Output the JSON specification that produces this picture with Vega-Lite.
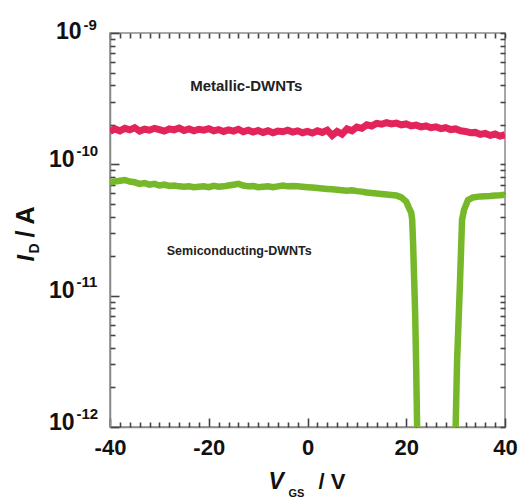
{
  "$schema": "https://vega.github.io/schema/vega-lite/v6.json",
  "width": 395,
  "height": 394,
  "autosize": {"type": "none"},
  "padding": {"left": 110, "top": 33, "right": 13, "bottom": 71},
  "background": "white",
  "config": {
    "font": "Liberation Sans",
    "view": {"stroke": "#8a8a8a", "strokeWidth": 1.5},
    "axis": {"grid": false, "labelColor": "#111", "titleColor": "#111", "tickColor": "#444", "tickWidth": 1.6, "domainColor": "#8a8a8a", "domainWidth": 1.5}
  },
  "datasets": {
    "metallic": [
      {"V": -40, "I": 1.78e-10}, {"V": -39, "I": 1.86e-10}, {"V": -38, "I": 1.80e-10}, {"V": -37, "I": 1.88e-10},
      {"V": -36, "I": 1.83e-10}, {"V": -35, "I": 1.90e-10}, {"V": -34, "I": 1.79e-10}, {"V": -33, "I": 1.85e-10},
      {"V": -32, "I": 1.82e-10}, {"V": -31, "I": 1.88e-10}, {"V": -30, "I": 1.84e-10}, {"V": -29, "I": 1.79e-10},
      {"V": -28, "I": 1.86e-10}, {"V": -27, "I": 1.83e-10}, {"V": -26, "I": 1.89e-10}, {"V": -25, "I": 1.81e-10},
      {"V": -24, "I": 1.86e-10}, {"V": -23, "I": 1.80e-10}, {"V": -22, "I": 1.85e-10}, {"V": -21, "I": 1.82e-10},
      {"V": -20, "I": 1.87e-10}, {"V": -19, "I": 1.80e-10}, {"V": -18, "I": 1.84e-10}, {"V": -17, "I": 1.78e-10},
      {"V": -16, "I": 1.83e-10}, {"V": -15, "I": 1.79e-10}, {"V": -14, "I": 1.85e-10}, {"V": -13, "I": 1.77e-10},
      {"V": -12, "I": 1.82e-10}, {"V": -11, "I": 1.76e-10}, {"V": -10, "I": 1.81e-10}, {"V": -9, "I": 1.75e-10},
      {"V": -8, "I": 1.80e-10}, {"V": -7, "I": 1.74e-10}, {"V": -6, "I": 1.79e-10}, {"V": -5, "I": 1.77e-10},
      {"V": -4, "I": 1.82e-10}, {"V": -3, "I": 1.76e-10}, {"V": -2, "I": 1.80e-10}, {"V": -1, "I": 1.74e-10},
      {"V": 0, "I": 1.78e-10}, {"V": 1, "I": 1.73e-10}, {"V": 2, "I": 1.80e-10}, {"V": 3, "I": 1.75e-10},
      {"V": 4, "I": 1.82e-10}, {"V": 5, "I": 1.66e-10}, {"V": 6, "I": 1.78e-10}, {"V": 7, "I": 1.70e-10},
      {"V": 8, "I": 1.86e-10}, {"V": 9, "I": 1.80e-10}, {"V": 10, "I": 1.92e-10}, {"V": 11, "I": 1.88e-10},
      {"V": 12, "I": 2.00e-10}, {"V": 13, "I": 1.96e-10}, {"V": 14, "I": 2.05e-10}, {"V": 15, "I": 2.02e-10},
      {"V": 16, "I": 2.08e-10}, {"V": 17, "I": 2.03e-10}, {"V": 18, "I": 2.06e-10}, {"V": 19, "I": 2.00e-10},
      {"V": 20, "I": 2.03e-10}, {"V": 21, "I": 1.96e-10}, {"V": 22, "I": 1.99e-10}, {"V": 23, "I": 1.93e-10},
      {"V": 24, "I": 1.96e-10}, {"V": 25, "I": 1.90e-10}, {"V": 26, "I": 1.93e-10}, {"V": 27, "I": 1.87e-10},
      {"V": 28, "I": 1.90e-10}, {"V": 29, "I": 1.84e-10}, {"V": 30, "I": 1.86e-10}, {"V": 31, "I": 1.80e-10},
      {"V": 32, "I": 1.78e-10}, {"V": 33, "I": 1.74e-10}, {"V": 34, "I": 1.75e-10}, {"V": 35, "I": 1.69e-10},
      {"V": 36, "I": 1.72e-10}, {"V": 37, "I": 1.66e-10}, {"V": 38, "I": 1.70e-10}, {"V": 39, "I": 1.64e-10},
      {"V": 40, "I": 1.68e-10}
    ],
    "semiconducting": [
      {"V": -40, "I": 7.3e-11}, {"V": -39, "I": 7.4e-11}, {"V": -38, "I": 7.5e-11}, {"V": -37, "I": 7.6e-11},
      {"V": -36, "I": 7.4e-11}, {"V": -35, "I": 7.3e-11}, {"V": -34, "I": 7.1e-11}, {"V": -33, "I": 7.2e-11},
      {"V": -32, "I": 7.0e-11}, {"V": -31, "I": 7.1e-11}, {"V": -30, "I": 6.9e-11}, {"V": -29, "I": 7.0e-11},
      {"V": -28, "I": 6.85e-11}, {"V": -27, "I": 6.9e-11}, {"V": -26, "I": 6.8e-11}, {"V": -25, "I": 6.75e-11},
      {"V": -24, "I": 6.8e-11}, {"V": -23, "I": 6.7e-11}, {"V": -22, "I": 6.75e-11}, {"V": -21, "I": 6.8e-11},
      {"V": -20, "I": 6.7e-11}, {"V": -19, "I": 6.85e-11}, {"V": -18, "I": 6.75e-11}, {"V": -17, "I": 6.8e-11},
      {"V": -16, "I": 6.9e-11}, {"V": -15, "I": 7.0e-11}, {"V": -14, "I": 7.1e-11}, {"V": -13, "I": 6.9e-11},
      {"V": -12, "I": 6.8e-11}, {"V": -11, "I": 6.85e-11}, {"V": -10, "I": 6.7e-11}, {"V": -9, "I": 6.75e-11},
      {"V": -8, "I": 6.8e-11}, {"V": -7, "I": 6.7e-11}, {"V": -6, "I": 6.8e-11}, {"V": -5, "I": 6.9e-11},
      {"V": -4, "I": 6.8e-11}, {"V": -3, "I": 6.85e-11}, {"V": -2, "I": 6.8e-11}, {"V": -1, "I": 6.75e-11},
      {"V": 0, "I": 6.7e-11}, {"V": 1, "I": 6.65e-11}, {"V": 2, "I": 6.6e-11}, {"V": 3, "I": 6.55e-11},
      {"V": 4, "I": 6.5e-11}, {"V": 5, "I": 6.45e-11}, {"V": 6, "I": 6.4e-11}, {"V": 7, "I": 6.35e-11},
      {"V": 8, "I": 6.3e-11}, {"V": 9, "I": 6.35e-11}, {"V": 10, "I": 6.25e-11}, {"V": 11, "I": 6.2e-11},
      {"V": 12, "I": 6.1e-11}, {"V": 13, "I": 6.05e-11}, {"V": 14, "I": 6.0e-11}, {"V": 15, "I": 5.95e-11},
      {"V": 16, "I": 5.9e-11}, {"V": 17, "I": 5.85e-11}, {"V": 18, "I": 5.8e-11}, {"V": 19, "I": 5.6e-11},
      {"V": 20, "I": 5.2e-11}, {"V": 20.5, "I": 4.7e-11}, {"V": 21, "I": 4.3e-11}, {"V": 21.2, "I": 3.8e-11},
      {"V": 21.4, "I": 2.4e-11}, {"V": 21.8, "I": 7.4e-12}, {"V": 22.0, "I": 3.0e-12}, {"V": 22.2, "I": 1.0e-12},
      {"V": 22.4, "I": 5.0e-13}, {"V": 29.8, "I": 5.0e-13}, {"V": 30.0, "I": 1.0e-12}, {"V": 30.3, "I": 3.2e-12},
      {"V": 30.9, "I": 1.32e-11}, {"V": 31.3, "I": 3.77e-11}, {"V": 31.7, "I": 4.5e-11}, {"V": 32.5, "I": 5.35e-11},
      {"V": 33.5, "I": 5.6e-11}, {"V": 34.3, "I": 5.65e-11}, {"V": 35, "I": 5.7e-11}, {"V": 36, "I": 5.72e-11},
      {"V": 37, "I": 5.75e-11}, {"V": 38, "I": 5.8e-11}, {"V": 39, "I": 5.82e-11}, {"V": 40, "I": 5.88e-11}
    ],
    "labels": [
      {"V": -12.4, "I": 3.94e-10, "label": "Metallic-DWNTs"},
      {"V": -28.5, "I": 2.18e-11, "label": "Semiconducting-DWNTs"}
    ]
  },
  "resolve": {"axis": {"x": "independent", "y": "independent"}},
  "layer": [
    {
      "data": {"name": "metallic"},
      "mark": {"type": "line", "color": "#e3245a", "strokeWidth": 7, "clip": true},
      "encoding": {
        "x": {
          "field": "V", "type": "quantitative",
          "scale": {"domain": [-40, 40], "nice": false, "zero": false},
          "axis": {
            "orient": "bottom",
            "values": [-40, -20, 0, 20, 40],
            "labelExpr": "datum.value < 0 ? '-' + abs(datum.value) : '' + datum.value",
            "labelFontSize": 22, "labelFontWeight": "bold", "labelFlush": false, "labelOverlap": false,
            "labelPadding": 19,
            "tickSize": -9,
            "title": "V", "titleFontStyle": "italic", "titleFontWeight": "bold", "titleFontSize": 23,
            "titleX": 158, "titleY": 61, "titleAlign": "left", "titleBaseline": "alphabetic"
          }
        },
        "y": {
          "field": "I", "type": "quantitative",
          "scale": {"type": "log", "domain": [1e-12, 1e-9], "nice": false},
          "axis": {
            "orient": "left",
            "values": [1e-12, 1e-11, 1e-10, 1e-9],
            "labelExpr": "'10'",
            "labelFontSize": 23, "labelFontWeight": "bold", "labelOverlap": false, "labelFlush": false,
            "labelBaseline": "middle",
            "labelPadding": {"condition": {"test": "datum.value > 5e-10", "value": 38}, "value": 45},
            "labelOffset": {"condition": {"test": "datum.value > 5e-10", "value": -2}, "value": -5},
            "tickSize": -9,
            "title": "I", "titleFontStyle": "italic", "titleFontWeight": "bold", "titleFontSize": 24,
            "titleAngle": -90, "titleX": -77, "titleY": 228, "titleAlign": "left", "titleBaseline": "alphabetic"
          }
        }
      }
    },
    {
      "data": {"name": "semiconducting"},
      "mark": {"type": "line", "color": "#76b82a", "strokeWidth": 6.5, "clip": true},
      "encoding": {
        "x": {
          "field": "V", "type": "quantitative",
          "axis": {
            "orient": "top",
            "values": [-40,-38,-36,-34,-32,-30,-28,-26,-24,-22,-20,-18,-16,-14,-12,-10,-8,-6,-4,-2,0,2,4,6,8,10,12,14,16,18,20,22,24,26,28,30,32,34,36,38,40],
            "labels": false, "domain": false,
            "tickSize": -5,
            "title": null
          }
        },
        "y": {
          "field": "I", "type": "quantitative",
          "axis": {
            "orient": "right",
            "values": [1e-12,2e-12,3e-12,4e-12,5e-12,6e-12,7e-12,8e-12,9e-12,1e-11,2e-11,3e-11,4e-11,5e-11,6e-11,7e-11,8e-11,9e-11,1e-10,2e-10,3e-10,4e-10,5e-10,6e-10,7e-10,8e-10,9e-10,1e-9],
            "labels": false, "domain": false,
            "tickSize": -5,
            "title": null
          }
        }
      }
    },
    {
      "data": {"name": "labels"},
      "transform": [{"filter": "datum.label === 'Metallic-DWNTs'"}],
      "mark": {"type": "text", "fontSize": 15, "fontWeight": "bold", "color": "#222", "align": "center", "baseline": "middle"},
      "encoding": {
        "text": {"field": "label"},
        "x": {
          "field": "V", "type": "quantitative",
          "axis": {
            "orient": "bottom", "domain": false, "labels": false,
            "values": [-38,-36,-34,-32,-30,-28,-26,-24,-22,-18,-16,-14,-12,-10,-8,-6,-4,-2,2,4,6,8,10,12,14,16,18,22,24,26,28,30,32,34,36,38],
            "tickSize": -5,
            "title": "/ V", "titleFontWeight": "bold", "titleFontSize": 22,
            "titleX": 208, "titleY": 61, "titleAlign": "left", "titleBaseline": "alphabetic"
          }
        },
        "y": {
          "field": "I", "type": "quantitative",
          "axis": {
            "orient": "left", "domain": false, "ticks": false, "tickSize": 0,
            "values": [1e-12, 1e-11, 1e-10, 1e-9],
            "labelExpr": "'-' + abs(round(log(datum.value)/LN10))",
            "labelFontSize": 15, "labelFontWeight": "bold", "labelAlign": "left", "labelBaseline": "middle",
            "labelOverlap": false, "labelFlush": false,
            "labelPadding": {"condition": {"test": "datum.value > 5e-10", "value": 27}, "value": 34},
            "labelOffset": {"condition": {"test": "datum.value > 5e-10", "value": -9}, "value": -14},
            "title": "/ A", "titleFontWeight": "bold", "titleFontSize": 25,
            "titleAngle": -90, "titleX": -77, "titleY": 204, "titleAlign": "left", "titleBaseline": "alphabetic"
          }
        }
      }
    },
    {
      "data": {"name": "labels"},
      "transform": [{"filter": "datum.label === 'Semiconducting-DWNTs'"}],
      "mark": {"type": "text", "fontSize": 12.5, "fontWeight": "bold", "color": "#222", "align": "left", "baseline": "middle"},
      "encoding": {
        "text": {"field": "label"},
        "x": {
          "field": "V", "type": "quantitative",
          "axis": {
            "orient": "bottom", "domain": false, "ticks": false, "labels": false,
            "title": "GS", "titleFontWeight": "bold", "titleFontSize": 11,
            "titleX": 178, "titleY": 69, "titleAlign": "left", "titleBaseline": "alphabetic"
          }
        },
        "y": {
          "field": "I", "type": "quantitative",
          "axis": {
            "orient": "left", "domain": false, "labels": false,
            "values": [2e-12,3e-12,4e-12,5e-12,6e-12,7e-12,8e-12,9e-12,2e-11,3e-11,4e-11,5e-11,6e-11,7e-11,8e-11,9e-11,2e-10,3e-10,4e-10,5e-10,6e-10,7e-10,8e-10,9e-10],
            "tickSize": -5,
            "title": "D", "titleFontWeight": "bold", "titleFontSize": 14,
            "titleAngle": -90, "titleX": -72, "titleY": 220, "titleAlign": "left", "titleBaseline": "alphabetic"
          }
        }
      }
    }
  ]
}
